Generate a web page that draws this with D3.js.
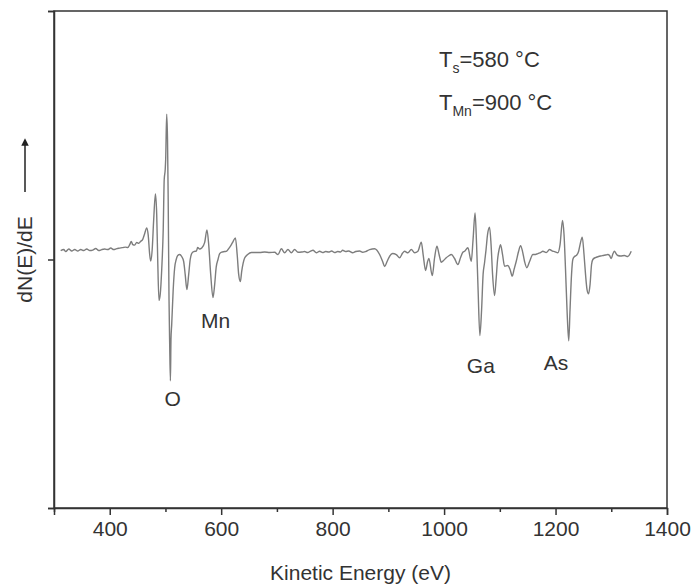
<!DOCTYPE html>
<html>
<head>
<meta charset="utf-8">
<script src="https://cdn.jsdelivr.net/npm/d3@7"></script>
<style>
  body { margin: 0; background: #fff; }
  text { font-family: "Liberation Sans", Arial, sans-serif; fill: #333; }
</style>
</head>
<body>
<div id="vis-container"></div>
<script>
const width = 699,
    height = 588;

const margin = {top: 11, right: 32, bottom: 80, left: 54};

// Auger spectrum (arbitrary units)
const energy = [312,317.5,321.1,326.5,331.8,337.2,342.6,348.0,353.4,358.7,364.1,369.5,374.9,380.3,385.7,391.0,396.4,401.8,407.2,412.6,417.9,423.3,428.7,432.3,435.9,438.6,441.3,444.8,448.4,452.0,455.6,459.2,462.8,466.4,469.1,471.7,473.5,476.2,478.9,482.0,484.3,486.1,488.4,490.6,493.3,496.0,497.8,499.6,500.4,502.2,503.7,504.9,506.4,507.6,508.9,509.9,511.2,513.9,516.6,519.3,522.0,525.6,529.1,532.7,535.4,538.5,541.7,544.4,547.1,550.7,555.5,557.8,561.4,565.0,570.4,574.5,577.6,581.2,585.3,588.3,591.0,594.3,597.3,600.9,606.3,609.9,613.5,618.3,621.5,625.5,628.7,631.4,634.4,636.8,642.1,647.5,654.2,660.1,669.1,678.0,687.0,696.0,701.9,708.0,713.9,719.8,725.9,731.8,737.8,744.4,749.8,755.2,760.5,764.7,770.8,776.7,782.1,787.4,792.8,798.2,803.6,809.0,814.3,817.9,823.3,828.7,835.9,841.3,848.4,853.8,859.2,866.4,875.3,884.3,889.7,893.3,897.7,902.2,907.6,914.2,920.2,925.6,929.1,935.1,941.2,947.1,953.0,959.1,962.4,966.8,970.4,972.7,978.8,983.0,987.1,991.0,995.0,999.1,1003.9,1008.1,1012.9,1018.8,1024.7,1029.6,1033.7,1036.8,1042.7,1048.8,1052.0,1055.6,1058.3,1061.0,1064.2,1067.3,1070.0,1072.6,1075.3,1078.0,1081.6,1084.3,1087.0,1090.6,1093.3,1096.0,1098.7,1101.3,1104.9,1108.5,1114.4,1118.4,1122.3,1125.6,1129.5,1133.6,1137.2,1140.8,1144.4,1148.5,1153.4,1159.3,1164.1,1168.3,1173.1,1177.2,1183.3,1189.2,1194.6,1198.2,1204.1,1208.1,1212.5,1215.2,1217.9,1220.6,1223.7,1226.0,1228.7,1231.0,1234.1,1237.1,1241.3,1244.0,1247.9,1251.1,1253.8,1256.5,1259.2,1261.9,1264.6,1266.9,1271.8,1275.9,1280.7,1284.9,1289.7,1293.8,1296.9,1299.9,1303.1,1305.8,1308.5,1311.7,1316.6,1323.7,1329.7,1335.8];

const dNdE = [3.6,4.0,3.2,4.2,3.4,4.0,3.4,4.0,3.6,4.2,3.6,3.8,4.4,3.6,4.0,4.2,4.0,4.6,4.0,4.4,4.6,4.8,5.0,4.8,6.0,7.3,6.0,5.8,6.9,6.5,7.3,8.1,10.5,12.7,9.7,2.0,-0.6,4.0,16.1,26.4,18.1,0,-16.5,-14.1,-4.0,12.1,32.3,36.3,40.3,58.5,48.4,24.2,-16.1,-34.3,-48.8,-32.3,-26.2,-12.1,-3.2,0,1.6,2.0,1.2,-0.8,-6.0,-12.1,-6.0,0,2.4,3.2,3.4,4.8,4.2,4.6,6.9,11.9,6.0,-6.0,-15.3,-10.1,-3.2,0,2.4,3.0,3.2,3.4,4.4,6.0,7.3,8.7,2.0,-6.0,-8.9,-4.8,0.6,2.0,2.8,2.8,2.8,3.0,2.8,2.9,2.0,4.3,2.7,4.0,2.7,4.0,2.9,3.0,3.2,2.8,3.4,3.7,2.7,3.3,2.8,3.2,3.0,3.4,2.8,3.2,3.0,3.7,3.2,3.4,2.7,3.2,3.4,2.9,3.2,4.0,4.3,2.0,-0.8,-2.8,-0.8,1.3,2.4,2.0,0.7,2.6,3.3,2.7,4.0,2.7,3.3,7.0,2.0,-4.4,-0.8,0.4,-6.5,0.8,5.4,2.0,-1.1,-0.4,0.7,1.4,2.0,0.4,-2.0,0.8,2.9,3.3,4.7,-0.7,8.1,18.7,6.0,-12.1,-30.6,-20.2,-6.0,-1.3,4.0,10.1,13.0,6.0,-6.0,-14.5,-8.1,0,4.0,6.0,2.0,-2.7,-2.4,-4.0,-6.7,-4.0,-0.7,3.2,5.6,3.2,-0.8,-3.3,-0.8,2.0,2.0,2.4,2.8,3.3,2.8,4.0,3.4,3.2,2.7,6.0,15.7,10.1,-4.0,-20.2,-32.7,-20.2,-6.0,0,1.2,1.6,3.2,6.0,9.0,2.0,-6.0,-12.1,-13.8,-10.1,-2.0,0,0.8,1.1,1.4,1.6,1.8,2.0,1.6,0.4,2.4,3.3,2.4,1.6,1.4,1.6,1.2,3.3];

// peak labels
const peakNames = ["O", "Mn", "Ga", "As"];
const peakE = [513, 590, 1066, 1201];
const peakV = [-55.8, -24.6, -42.9, -41.7];

const majorTicks = [400, 600, 800, 1000, 1200, 1400];
const minorTicks = [300, 500, 700, 900, 1100, 1300];

const data = energy.map((e, i) => ({e: e, v: dNdE[i]}));

var svg = d3.select("#vis-container").append("svg")
    .attr("width", width)
    .attr("height", height);

var x = d3.scaleLinear()
    .domain([300, 1400])
    .range([margin.left, width - margin.right]);

var y = d3.scaleLinear()
    .domain([-100, 100])
    .range([height - margin.bottom, margin.top]);

// frame
svg.append("rect")
    .attr("x", x(300)).attr("y", y(100))
    .attr("width", x(1400) - x(300))
    .attr("height", y(-100) - y(100))
    .attr("fill", "none")
    .attr("stroke", "#333")
    .attr("stroke-width", 1.5);

// x axis
var xAxis = svg.append("g")
    .attr("transform", "translate(0," + y(-100) + ")")
    .call(d3.axisBottom(x).tickValues(majorTicks).tickSize(7).tickPadding(6).tickFormat(d3.format("d")));

svg.append("g")
    .attr("transform", "translate(0," + y(-100) + ")")
    .call(d3.axisBottom(x).tickValues(minorTicks).tickSize(4).tickFormat(""))
    .select(".domain").remove();

xAxis.select(".domain").attr("stroke", "#333").attr("stroke-width", 1.5);
svg.selectAll(".tick line").attr("stroke", "#333").attr("stroke-width", 1.5);
xAxis.selectAll(".tick text")
    .style("font-family", "Liberation Sans, Arial, sans-serif")
    .style("font-size", "21px")
    .attr("fill", "#333");

// y axis (no labels)
var yAxis = svg.append("g")
    .attr("transform", "translate(" + x(300) + ",0)")
    .call(d3.axisLeft(y).tickValues([-100, 0, 100]).tickSize(6).tickFormat(""));
yAxis.select(".domain").attr("stroke", "#333").attr("stroke-width", 1.5);
yAxis.selectAll(".tick line").attr("stroke", "#333").attr("stroke-width", 1.5);

// spectrum
var line = d3.line()
    .curve(d3.curveMonotoneX)
    .x(d => x(d.e))
    .y(d => y(d.v));

svg.append("path")
    .datum(data)
    .attr("d", line)
    .attr("fill", "none")
    .attr("stroke", "#7d7d7d")
    .attr("stroke-width", 1.4)
    .attr("stroke-linejoin", "round");

// peak labels
svg.selectAll(".peak")
    .data(peakNames)
    .enter().append("text")
    .attr("class", "peak")
    .attr("x", (d, i) => x(peakE[i]))
    .attr("y", (d, i) => y(peakV[i]))
    .attr("dy", "0.35em")
    .attr("text-anchor", "middle")
    .style("font-size", "21px")
    .text(d => d);

// axis titles
svg.append("text")
    .attr("x", (x(300) + x(1400)) / 2)
    .attr("y", 580)
    .attr("text-anchor", "middle")
    .style("font-size", "21px")
    .text("Kinetic Energy (eV)");

svg.append("text")
    .attr("transform", "translate(32," + y(0) + ") rotate(-90)")
    .attr("text-anchor", "middle")
    .style("font-size", "21px")
    .text("dN(E)/dE");

// arrow next to the y title
svg.append("defs").append("marker")
    .attr("id", "head")
    .attr("viewBox", "0 0 10 10")
    .attr("refX", 5).attr("refY", 5)
    .attr("markerWidth", 5).attr("markerHeight", 6)
    .attr("orient", "auto")
    .append("path")
    .attr("d", "M0,0 L10,5 L0,10 z")
    .attr("fill", "#222");

svg.append("line")
    .attr("x1", 25).attr("x2", 25)
    .attr("y1", 192).attr("y2", 142)
    .attr("stroke", "#222")
    .attr("stroke-width", 1.5)
    .attr("marker-end", "url(#head)");

// growth conditions
var t1 = svg.append("text").attr("x", 439).attr("y", 67).style("font-size", "22px");
t1.append("tspan").text("T");
t1.append("tspan").attr("dy", 6).style("font-size", "14px").text("s");
t1.append("tspan").attr("dy", -6).text("=580 \u00b0C");

var t2 = svg.append("text").attr("x", 439).attr("y", 110).style("font-size", "22px");
t2.append("tspan").text("T");
t2.append("tspan").attr("dy", 6).style("font-size", "14px").text("Mn");
t2.append("tspan").attr("dy", -6).text("=900 \u00b0C");
</script>
</body>
</html>
